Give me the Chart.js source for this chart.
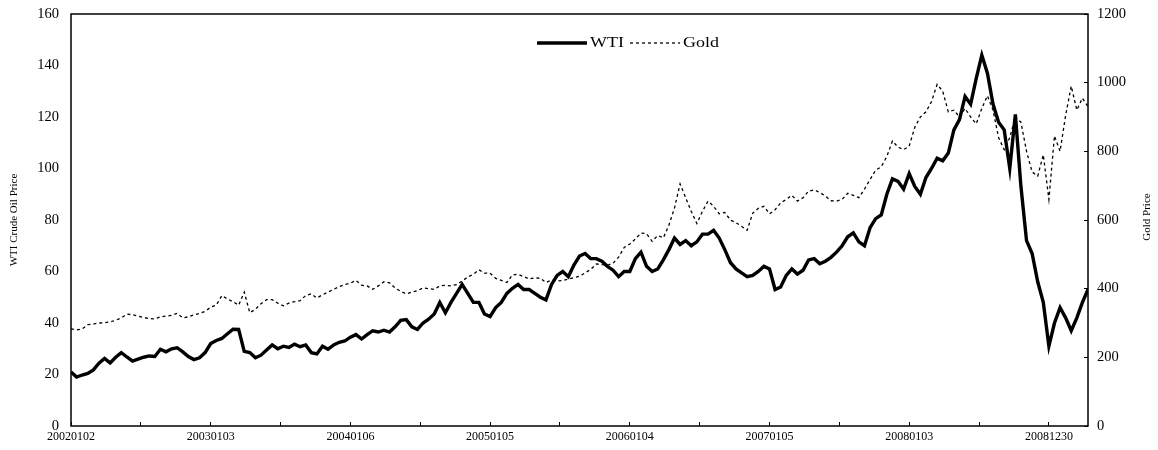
<!DOCTYPE html>
<html>
<head>
<meta charset="utf-8">
<script src="https://cdn.jsdelivr.net/npm/chart.js@4.4.1/dist/chart.umd.min.js"></script>
<style>
  html, body { margin: 0; padding: 0; background: #fff; }
  canvas { display: block; }
</style>
</head>
<body>
<canvas id="priceChart" width="1158" height="450"></canvas>
<script>
// one sample every 10 trading days, starting 2002-01-02
const dayStep = 10;
const lastDay = 1820;

// date labels sit every 250 trading days
const labelEvery = 250;
const dateLabels = ['20020102', '20030103', '20040106', '20050105', '20060104', '20070105', '20080103', '20081230'];

const wtiPrice = [
  21, 19, 19.8, 20.4, 21.8, 24.4, 26.2, 24.5, 26.7, 28.5,
  26.8, 25.2, 26, 26.7, 27.2, 27, 29.8, 28.8, 30, 30.4,
  28.8, 27, 25.8, 26.5, 28.5, 32, 33.2, 34, 35.8, 37.6,
  37.5, 29, 28.5, 26.5, 27.5, 29.5, 31.5, 30, 31, 30.5,
  31.8, 30.8, 31.5, 28.5, 28, 31, 29.8, 31.5, 32.5, 33,
  34.5, 35.5, 33.8, 35.5, 37, 36.5, 37.2, 36.5, 38.5, 41,
  41.3, 38.5, 37.5, 40, 41.5, 43.5, 48, 44, 48, 51.5,
  55, 51.5, 48, 48, 43.5, 42.5, 46, 48, 51.5, 53.5,
  55, 53, 53, 51.5, 50, 49, 55, 58.5, 60, 58,
  62.5, 66, 67, 65, 65, 64, 62, 60.5, 58, 60,
  60, 65, 67.5, 62, 60, 61, 64.5, 68.5, 73, 70.5,
  72, 70, 71.5, 74.5, 74.5, 76, 73, 68.5, 63.5, 61,
  59.5, 58, 58.5, 60, 62, 61, 53, 54, 58.5, 61,
  59, 60.5, 64.5, 65, 63, 64, 65.5, 67.5, 70, 73.5,
  75, 71.5, 70, 77, 80.5, 82, 90, 96, 95, 92,
  98, 93, 90, 96.5, 100, 104, 103, 106, 115, 119,
  128, 125, 135, 144, 137, 125, 118, 115, 100, 121,
  93, 72, 67, 56, 48, 31, 40, 46, 42, 37,
  42, 48, 53
];

const goldPrice = [
  283, 280, 283, 295, 297, 300, 301, 303, 308, 315,
  326, 324, 320, 316, 313, 312, 318, 320, 322, 328,
  315, 318, 324, 328, 334, 346, 352, 380, 370, 362,
  352, 390, 330, 340, 356, 368, 368, 358, 350, 358,
  362, 365, 380, 385, 373, 382, 390, 398, 406, 412,
  416, 424, 410, 408, 398, 408, 420, 417, 402, 392,
  385, 390, 394, 402, 400, 398, 408, 410, 408, 412,
  422, 434, 442, 455, 445, 445, 430, 424, 418, 440,
  442, 435, 428, 432, 430, 418, 425, 422, 424, 428,
  432, 436, 446, 456, 472, 470, 468, 474, 492, 520,
  530, 545, 562, 560, 538, 555, 548, 585, 635, 705,
  665, 625, 590, 625, 655, 640, 618, 622, 600, 592,
  582, 570, 620, 634, 640, 618, 630, 650, 660, 672,
  655, 665, 684, 688, 680, 670, 656, 655, 660, 678,
  672, 665, 690, 718, 745, 755, 785, 830, 812, 805,
  815, 870, 900, 915, 945, 995, 975, 915, 920, 900,
  925, 900, 880, 925, 962, 920, 840, 805, 840, 900,
  885, 800, 740, 728, 790, 660, 845, 800, 905, 990,
  920, 955, 930
];

const SERIF = "'Liberation Serif', 'Times New Roman', serif";

const toPoints = values => values.map((v, i) => ({ x: i * dayStep, y: v }));

// fixed axis sizes so the plot box lands in the same place every time
const fixWidth = w => s => {
  s.width = w;
  s.paddingTop = 0;
  s.paddingBottom = 0;
};

// box around the plot area
const plotFrame = {
  id: 'plotFrame',
  afterDatasetsDraw(chart) {
    const { left, top, right, bottom } = chart.chartArea;
    const ctx = chart.ctx;
    ctx.save();
    ctx.strokeStyle = '#000';
    ctx.lineWidth = 1.5;
    ctx.strokeRect(left, top, right - left, bottom - top);
    ctx.restore();
  }
};

// legend inside the plot (line sample then label) and the gold axis title
const annotations = {
  id: 'annotations',
  afterDraw(chart) {
    const ctx = chart.ctx;
    const stretch = 1.2;
    let x = 537;
    const y = 43;
    ctx.save();
    ctx.font = '15px ' + SERIF;
    ctx.textBaseline = 'middle';
    ctx.fillStyle = '#000';
    chart.data.datasets.forEach(ds => {
      ctx.strokeStyle = ds.borderColor;
      ctx.lineWidth = ds.borderWidth;
      ctx.setLineDash(ds.borderDash || []);
      ctx.beginPath();
      ctx.moveTo(x, y);
      ctx.lineTo(x + 50, y);
      ctx.stroke();
      x += 53;
      ctx.save();
      ctx.translate(x, y);
      ctx.scale(stretch, 1);
      ctx.fillText(ds.label, 0, 0);
      ctx.restore();
      x += ctx.measureText(ds.label).width * stretch + 6;
    });

    const { top, bottom } = chart.chartArea;
    ctx.setLineDash([]);
    ctx.font = '11px ' + SERIF;
    ctx.textAlign = 'center';
    ctx.translate(1147, (top + bottom) / 2 - 3);
    ctx.rotate(-Math.PI / 2);
    ctx.fillText('Gold Price', 0, 0);
    ctx.restore();
  }
};

new Chart(document.getElementById('priceChart'), {
  type: 'line',
  data: {
    datasets: [{
      label: 'WTI',
      data: toPoints(wtiPrice),
      yAxisID: 'yOil',
      borderColor: '#000',
      borderWidth: 3.4,
      pointRadius: 0,
      tension: 0
    }, {
      label: 'Gold',
      data: toPoints(goldPrice),
      yAxisID: 'yGold',
      borderColor: '#000',
      borderWidth: 1.3,
      borderDash: [3, 3],
      pointRadius: 0,
      tension: 0
    }]
  },
  options: {
    responsive: false,
    animation: false,
    devicePixelRatio: 1,
    layout: { padding: { top: 14 } },
    plugins: {
      legend: { display: false },
      tooltip: { enabled: false }
    },
    scales: {
      x: {
        type: 'linear',
        min: 0,
        max: lastDay,
        afterFit: s => { s.height = 24; },
        border: { display: false },
        grid: { drawOnChartArea: false, tickLength: -4, color: '#000', lineWidth: 1 },
        ticks: {
          stepSize: labelEvery / 2,
          includeBounds: false,
          autoSkip: false,
          maxRotation: 0,
          padding: 8,
          color: '#000',
          font: { family: SERIF, size: 12 },
          callback: v => (v % labelEvery === 0 ? dateLabels[v / labelEvery] : '')
        }
      },
      yOil: {
        position: 'left',
        min: 0,
        max: 160,
        afterFit: fixWidth(71),
        border: { display: false },
        grid: { drawOnChartArea: false, drawTicks: false },
        ticks: {
          stepSize: 20,
          padding: 12,
          color: '#000',
          font: { family: SERIF, size: 14.5 }
        },
        title: {
          display: true,
          text: 'WTI Crude Oil Price',
          color: '#000',
          padding: { top: 8 },
          font: { family: SERIF, size: 11 }
        }
      },
      yGold: {
        position: 'right',
        min: 0,
        max: 1200,
        afterFit: fixWidth(70),
        border: { display: false },
        grid: { drawOnChartArea: false, tickLength: -4, color: '#000', lineWidth: 1 },
        ticks: {
          stepSize: 200,
          padding: 13,
          color: '#000',
          font: { family: SERIF, size: 14.5 },
          callback: v => String(v)
        }
      }
    }
  },
  plugins: [plotFrame, annotations]
});
</script>
</body>
</html>
